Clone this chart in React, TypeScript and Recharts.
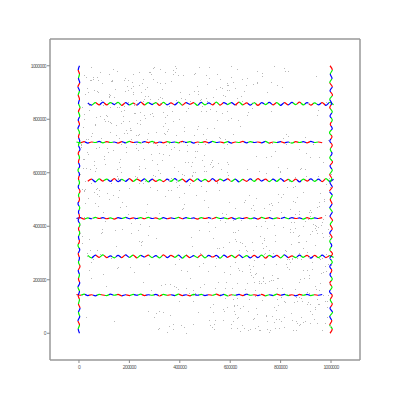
import { ComposedChart, Line, Scatter, XAxis, YAxis } from 'recharts';

// Tick values shared by both axes
const axisTicks = [0, 200000, 400000, 600000, 800000, 1000000];
const xDomain = [-115000, 1115000];
const yDomain = [-100000, 1100000];

// Background noise points, in thousands
const dotXk = [
  512, 87, 934, 263, 701, 45, 378, 829, 156, 640, 993, 221, 467, 758, 30, 605, 319, 882, 174, 546,
  72, 688, 415, 957, 239, 803, 134, 571, 926, 356, 19, 742, 283, 619, 865, 98, 450, 711, 187, 538,
  976, 305, 653, 41, 822, 496, 127, 764, 389, 915, 260, 583, 9, 847, 432, 676, 201, 959, 348, 590,
  113, 783, 462, 25, 669, 898, 331, 557, 214, 740, 981, 63, 405, 836, 292, 621, 150, 873, 509, 372,
  944, 81, 627, 251, 718, 486, 3, 793, 342, 965, 168, 534, 859, 275, 697, 418, 55, 906, 230, 661,
  395, 812, 141, 579, 970, 322, 747, 16, 483, 638, 206, 891, 529, 67, 774, 446, 987, 255, 603, 119,
  850, 367, 718, 34, 592, 941, 180, 426, 681, 299, 821, 92, 560, 913, 237, 658, 475, 13, 789, 341,
  631, 159, 904, 477, 246, 768, 52, 515, 866, 311, 694, 128, 952, 403, 745, 288, 579, 20, 837, 455,
  196, 723, 364, 989, 108, 547, 815, 273, 646, 437, 77, 880, 318, 599, 940, 165, 502, 731, 39, 612,
  286, 856, 424, 70, 667, 997, 233, 511, 789, 145, 378, 918, 61, 734, 492, 826, 215, 587, 948, 332,
  103, 677, 440, 907, 269, 545, 11, 798, 359, 622, 185, 963, 497, 725, 58, 873, 304, 566, 839, 227,
  754, 47, 593, 316, 929, 470, 138, 689, 871, 254, 613, 24, 777, 398, 985, 163, 521, 842, 296, 646,
  419, 935, 86, 704, 237, 556, 881, 175, 462, 762, 5, 627, 318, 896, 149, 531, 806, 384, 973, 243,
  680, 122, 857, 502, 33, 744, 391, 968, 209, 574, 836, 96, 425, 667, 281, 914, 547, 60, 808, 353,
  909, 275, 617, 177, 790, 428, 953, 64, 515, 729, 322, 874, 190, 641, 478, 18, 765, 396, 586, 133,
  567, 821, 29, 373, 691, 246, 925, 454, 110, 803, 637, 288, 996, 153, 519, 862, 407, 71, 735, 268,
  38, 599, 784, 341, 952, 205, 479, 648, 870, 115, 394, 727, 561, 22, 846, 287, 672, 938, 436, 181,
  829, 452, 260, 917, 83, 613, 357, 775, 998, 226, 539, 142, 706, 889, 47, 418, 659, 312, 980, 541,
  367, 702, 129, 486, 861, 590, 7, 752, 320, 943, 197, 627, 413, 848, 263, 572, 99, 811, 678, 455,
  985, 222, 535, 796, 56, 381, 669, 900, 158, 497, 733, 37, 606, 295, 859, 172, 943, 433, 713, 248,
  611, 124, 877, 398, 744, 15, 560, 237, 937, 685, 309, 82, 826, 473, 194, 627, 970, 351, 508, 766,
  141, 906, 431, 689, 278, 51, 814, 589, 365, 961, 215, 740, 500, 106, 866, 642, 304, 21, 779, 592,
  457, 993, 249, 617, 88, 736, 386, 529, 924, 178, 672, 440, 13, 808, 259, 553, 890, 340, 725, 164,
  801, 313, 665, 47, 949, 470, 208, 785, 577, 120, 855, 392, 975, 236, 696, 531, 66, 840, 417, 277,
  26, 548, 752, 297, 883, 634, 158, 405, 969, 714, 342, 588, 901, 191, 472, 27, 827, 657, 229, 939,
  693, 378, 118, 936, 509, 262, 780, 604, 43, 856, 335, 717, 461, 988, 132, 596, 244, 873, 521, 75,
  329, 761, 570, 207, 826, 94, 418, 958, 655, 285, 513, 873, 168, 731, 386, 48, 616, 922, 253, 482,
  872, 176, 446, 667, 320, 991, 539, 109, 798, 363, 227, 623, 950, 62, 707, 442, 296, 848, 579, 11,
  531, 945, 293, 103, 715, 401, 866, 199, 579, 10, 763, 638, 340, 917, 151, 474, 987, 272, 605, 834,
  218, 633, 998, 372, 527, 90, 808, 316, 691, 447, 154, 889, 587, 235, 760, 35, 423, 673, 912, 124,
  47, 583, 261, 918, 705, 132, 449, 876, 320, 664, 8, 791, 537, 204, 953, 388, 619, 96, 742, 475,
  861, 179, 597, 33, 722, 410, 948, 267, 651, 115, 834, 503, 71, 369, 986, 242, 556, 805, 149, 690,
  315, 772, 58, 491, 927, 184, 630, 397, 849, 21, 713, 566, 245, 902, 137, 468, 689, 979, 356, 524,
  612, 91, 838, 429, 276, 963, 504, 155, 745, 338, 881, 62, 595, 217, 779, 436, 994, 119, 667, 381,
  206, 737, 473, 14, 896, 560, 325, 819, 101, 648, 399, 957, 240, 533, 77, 870, 626, 293, 760, 451,
  939, 349, 126, 703, 587, 31, 822, 464, 218, 975, 613, 168, 787, 452, 29, 698, 345, 913, 571, 254,
  135, 682, 917, 281, 545, 802, 66, 417, 759, 196, 980, 333, 627, 490, 853, 146, 716, 43, 589, 866,
  727, 258, 400, 954, 162, 631, 875, 357, 49, 574, 790, 221, 936, 109, 482, 648, 302, 841, 523, 18,
  497, 846, 187, 620, 372, 78, 731, 945, 286, 519, 160, 889, 411, 694, 835, 253, 970, 384, 112, 772,
  859, 25, 674, 309, 503, 794, 238, 966, 451, 122, 618, 380, 827, 552, 195, 915, 66, 736, 292, 599,
  268, 910, 533, 180, 819, 447, 701, 83, 353, 992, 229, 648, 503, 41, 766, 311, 887, 172, 460, 627,
  782, 427, 3, 661, 238, 911, 372, 589, 150, 840, 689, 274, 952, 516, 103, 743, 420, 224, 978, 561,
  384, 619, 817, 71, 935, 256, 487, 699, 20, 776, 343, 873, 565, 202, 655, 36, 926, 471, 145, 814,
  973, 142, 459, 784, 333, 604, 871, 216, 542, 967, 121, 395, 746, 281, 836, 578, 9, 708, 363, 497,
  57, 697, 241, 548, 996, 415, 164, 632, 904, 329, 81, 768, 458, 612, 227, 897, 515, 752, 39, 186,
];
const dotYk = [
  233, 871, 54, 619, 402, 947, 175, 738, 511, 96, 363, 825, 680, 14, 289, 957, 448, 132, 795, 567,
  904, 341, 772, 187, 626, 45, 517, 889, 268, 710, 433, 63, 975, 352, 147, 801, 589, 26, 678, 396,
  120, 752, 491, 836, 307, 668, 942, 216, 573, 38, 914, 445, 697, 281, 858, 129, 760, 404, 6, 633,
  811, 258, 973, 541, 83, 420, 649, 320, 901, 186, 557, 783, 236, 465, 991, 72, 614, 341, 867, 15,
  471, 697, 188, 935, 362, 829, 597, 53, 746, 281, 604, 16, 392, 887, 163, 524, 958, 238, 785, 311,
  685, 121, 857, 416, 230, 986, 45, 772, 549, 340, 915, 207, 647, 810, 97, 358, 722, 563, 19, 893,
  377, 944, 13, 725, 591, 166, 833, 295, 467, 62, 708, 380, 921, 152, 614, 499, 250, 847, 104, 976,
  59, 537, 305, 863, 716, 199, 432, 956, 120, 631, 275, 787, 476, 30, 902, 648, 168, 530, 379, 742,
  945, 402, 689, 142, 817, 561, 22, 749, 338, 893, 475, 617, 85, 253, 961, 708, 533, 196, 859, 425,
  160, 583, 830, 313, 954, 27, 685, 472, 207, 778, 622, 110, 908, 355, 744, 249, 969, 641, 396, 78,
  794, 229, 562, 117, 483, 912, 336, 601, 28, 853, 697, 415, 185, 973, 529, 301, 77, 822, 266, 708,
  311, 996, 143, 673, 409, 765, 885, 54, 457, 190, 939, 568, 345, 802, 122, 621, 29, 431, 717, 867,
  640, 91, 376, 224, 975, 535, 277, 813, 149, 662, 405, 881, 21, 732, 589, 357, 920, 172, 503, 783,
  17, 844, 490, 727, 301, 599, 164, 358, 938, 82, 715, 452, 1, 614, 877, 216, 799, 645, 396, 534,
  859, 369, 102, 946, 623, 233, 491, 780, 51, 319, 862, 191, 748, 423, 996, 537, 66, 278, 910, 685,
  448, 745, 617, 34, 210, 903, 382, 121, 694, 511, 9, 822, 283, 577, 838, 137, 463, 957, 259, 726,
  238, 573, 927, 184, 659, 414, 873, 31, 342, 795, 605, 961, 148, 488, 278, 670, 827, 97, 556, 904,
  982, 36, 716, 459, 811, 142, 573, 999, 255, 692, 49, 387, 934, 527, 207, 757, 325, 612, 865, 168,
  534, 663, 281, 874, 45, 929, 707, 196, 598, 375, 792, 132, 470, 11, 886, 321, 653, 521, 239, 970,
  100, 427, 766, 605, 951, 258, 84, 673, 847, 497, 296, 903, 169, 713, 549, 391, 40, 843, 608, 330,
  743, 890, 204, 510, 67, 651, 952, 344, 176, 841, 535, 297, 619, 80, 447, 988, 228, 755, 931, 481,
  288, 154, 640, 932, 401, 749, 60, 829, 582, 224, 924, 418, 708, 175, 511, 886, 357, 651, 19, 799,
  866, 582, 346, 84, 731, 467, 992, 620, 240, 713, 13, 869, 541, 298, 817, 191, 402, 935, 126, 651,
  455, 16, 817, 267, 588, 925, 374, 169, 693, 502, 117, 965, 250, 742, 58, 882, 617, 332, 484, 977,
  727, 320, 482, 994, 119, 236, 639, 881, 427, 13, 785, 602, 343, 923, 707, 62, 548, 165, 861, 385,
  192, 696, 887, 330, 768, 571, 88, 999, 313, 447, 826, 147, 680, 260, 943, 489, 796, 32, 633, 901,
  914, 486, 51, 761, 148, 853, 592, 279, 18, 968, 415, 688, 831, 212, 567, 739, 106, 452, 952, 301,
  369, 812, 627, 187, 936, 532, 252, 714, 431, 68, 872, 345, 109, 608, 979, 207, 866, 494, 727, 143,
  627, 128, 952, 418, 286, 715, 39, 543, 886, 364, 199, 776, 514, 660, 244, 906, 389, 83, 806, 571,
  823, 311, 594, 968, 22, 389, 730, 142, 865, 593, 248, 43, 706, 387, 939, 670, 171, 517, 285, 753,
  562, 193, 806, 437, 71, 948, 325, 614, 882, 152, 707, 490, 35, 769, 283, 546, 918, 220, 659, 387,
  14, 747, 342, 915, 188, 594, 836, 453, 102, 677, 277, 964, 521, 829, 62, 409, 733, 169, 982, 311,
  875, 41, 628, 263, 709, 954, 387, 122, 548, 800, 196, 917, 340, 586, 47, 765, 478, 233, 850, 640,
  127, 937, 466, 705, 258, 12, 829, 581, 394, 748, 62, 488, 911, 229, 680, 150, 546, 885, 307, 975,
  728, 300, 895, 616, 45, 423, 179, 981, 662, 231, 857, 524, 744, 108, 947, 365, 21, 592, 829, 162,
  402, 815, 563, 96, 928, 676, 259, 518, 855, 38, 380, 785, 127, 601, 957, 223, 704, 454, 92, 869,
  986, 216, 371, 547, 832, 137, 694, 25, 462, 911, 295, 670, 57, 848, 416, 742, 188, 613, 935, 283,
  336, 651, 902, 110, 473, 799, 34, 668, 947, 228, 519, 856, 393, 715, 173, 952, 586, 75, 431, 819,
  606, 49, 761, 377, 984, 534, 206, 815, 573, 98, 731, 318, 964, 461, 241, 694, 142, 871, 525, 406,
  165, 894, 254, 702, 606, 19, 928, 375, 144, 789, 468, 999, 276, 637, 866, 83, 541, 348, 813, 220,
  919, 427, 79, 848, 313, 642, 507, 975, 765, 189, 585, 32, 878, 352, 713, 940, 237, 490, 658, 104,
  53, 681, 374, 929, 563, 205, 792, 99, 844, 415, 253, 711, 162, 996, 631, 328, 876, 589, 443, 729,
  741, 268, 118, 543, 403, 877, 649, 21, 964, 367, 807, 134, 614, 249, 905, 507, 73, 773, 328, 993,
  493, 914, 601, 207, 776, 36, 447, 893, 282, 642, 971, 556, 17, 819, 388, 131, 703, 941, 185, 626,
  278, 139, 827, 969, 347, 714, 568, 244, 109, 878, 512, 299, 906, 47, 741, 614, 381, 5, 855, 474,
];

// Wavy traces: wiggle around the level, in thousands
const h1Wiggle = [2, -1, 3, -2, 1, -3, 2, 0, -2, 3, -1, 2, -3, 1, -2, 2, -1, 3, -2, 1, -1, 2, -3, 2, -1, 1, -2, 3, -2, 1, -3, 2, -1, 2, -2, 1, -1, 3, -2, 2, -3, 1, -1, 2, -2, 3, -1, 1, -2, 2, -3, 1, -2, 3, -1, 2, -2, 1, -3, 2, -1, 2, -2, 1, -1, 2];
const h2Wiggle = [4, -5, 5, -3, 6, -4, 2, -5, 4, -4, 6, -3, 5, -5, 4, -2, 5, -4, 3, -5, 6, -4, 4, -3, 5, -6, 4, -4, 3, -4, 6, -5, 4, -2, 4, -6, 5, -3, 4, -4, 6, -4, 3, -5, 4, -4, 5, -6, 4, -3, 4, -5, 6, -4, 2, -4, 5, -3, 4, -6, 4, -4, 5, -4, 3, -4];
const h3Wiggle = [-1, 2, -3, 1, -2, 3, -1, 2, -2, 1, -3, 2, -1, 3, -2, 1, -1, 2, -2, 3, -1, 1, -3, 2, -2, 1, -1, 3, -2, 2, -1, 1, -3, 2, -1, 2, -2, 3, -1, 1, -2, 2, -3, 1, -1, 2, -2, 1, -3, 3, -1, 2, -2, 1, -1, 3, -2, 2, -1, 1, -3, 2, -2, 1, -1, 2];
const h4Wiggle = [-4, 4, -6, 5, -3, 4, -4, 6, -5, 3, -4, 6, -4, 4, -3, 5, -6, 4, -4, 2, -5, 4, -4, 6, -3, 4, -6, 4, -4, 5, -4, 3, -5, 6, -4, 4, -2, 5, -4, 4, -6, 3, -4, 5, -4, 6, -3, 4, -5, 4, -4, 6, -4, 3, -5, 4, -6, 4, -3, 5, -4, 4, -5, 6, -4, 4];
const h5Wiggle = [1, -2, 2, -3, 1, -1, 3, -2, 2, -1, 1, -3, 2, -2, 3, -1, 1, -2, 2, -1, 3, -3, 1, -2, 2, -1, 1, -2, 3, -1, 2, -3, 1, -1, 2, -2, 3, -1, 1, -2, 2, -3, 1, -1, 3, -2, 2, -1, 1, -2, 3, -3, 1, -1, 2, -2, 1, -3, 2, -1, 2, -2, 3, -1, 1, -2];
const h6Wiggle = [3, -5, 4, -4, 6, -4, 4, -3, 5, -6, 4, -4, 2, -5, 6, -4, 4, -3, 4, -6, 5, -4, 3, -4, 6, -5, 4, -2, 4, -6, 5, -4, 3, -4, 6, -5, 4, -3, 4, -4, 6, -4, 3, -5, 4, -6, 4, -3, 5, -4, 4, -6, 4, -4, 5, -3, 6, -4, 4, -5, 3, -4, 4, -6, 5, -4];
const v0Wiggle = [2, -3, 2, -4, 3, -2, 4, -2, 2, -3, 2, -4, 3, -2, 2, -3, 4, -2, 2, -3, 3, -4, 2, -2, 3, -2, 4, -3, 2, -2, 3, -4, 2, -2, 4, -3, 2, -2, 2, -4, 3, -2, 2, -3, 4, -2, 3, -2, 2, -4, 2, -3, 3, -2, 4, -2, 2, -3, 2, -4, 3, -2, 2, -3, 2];
const v1Wiggle = [-4, 5, -5, 3, -5, 6, -4, 5, -3, 5, -6, 4, -5, 5, -4, 3, -5, 5, -4, 6, -5, 3, -5, 4, -5, 5, -3, 6, -4, 5, -5, 4, -3, 5, -6, 5, -4, 3, -5, 5, -4, 6, -5, 4, -3, 5, -5, 4, -6, 5, -3, 5, -4, 5, -5, 3, -5, 6, -4, 5, -5, 4, -3, 5, -4];

const traces = [
  { id: 'h1', dir: 'h', level: 143000, start: -10000, step: 15000, wiggle: h1Wiggle, colors: 'rgbrbgrgbgrbrgbgrbgbrgrbgrbrgbgbrgrbgrgbrbgrbrgbgrbgrbrgbgrb' },
  { id: 'h2', dir: 'h', level: 287000, start: 35000, step: 15000, wiggle: h2Wiggle, colors: 'gbrgrbgbrbgrgbrgbgrbrgbgrbgrgbrbgbrgrbgbrbgrgbrgbrgbgrbrgbrg' },
  { id: 'h3', dir: 'h', level: 430000, start: -10000, step: 15000, wiggle: h3Wiggle, colors: 'brgbgrbrgrbgbrbgrgbrgbrbgrbgbrgrbrgbgrbgbrgbrgrbgrbgbrbgrgbr' },
  { id: 'h4', dir: 'h', level: 572000, start: 35000, step: 15000, wiggle: h4Wiggle, colors: 'rbgrgbrbgbrgrbgbrgrbgbgrbrgbgrbrgbrgbgrbgrbrgbgbrgrbgrbgbrgb' },
  { id: 'h5', dir: 'h', level: 714000, start: -10000, step: 15000, wiggle: h5Wiggle, colors: 'grbrgbgrgbrbgrbgbrgrbrgbgrbgbrgrbgbrgbrgrbgbrbgrgbrbgrgbrbgr' },
  { id: 'h6', dir: 'h', level: 858000, start: 35000, step: 15000, wiggle: h6Wiggle, colors: 'bgrbrgbgrbgrbrgbgrgbrbgrbrgbgbrgrbgbrgrbgrbgbrgbrbgrgbrgbrbg' },
  { id: 'v0', dir: 'v', level: 0, start: 0, step: 15625, wiggle: v0Wiggle, colors: 'brgbrbgrbgrgbrbgrbgbrgrbgbrgbrgrbgbrbgrgbrgbrbgrbgrbgbrgrbgbrgb' },
  { id: 'v1', dir: 'v', level: 1000000, start: 0, step: 15625, wiggle: v1Wiggle, colors: 'rgbgrbrgbrgbgrbgrbrgbgrbgrgbrbgrbgbrgrbrgbgrbgbrbgrgbrgrbgbrgr' },
];

const colorMap: Record<string, string> = { r: '#ff0000', g: '#00ee00', b: '#0000ff' };

const dots = dotXk.slice(0, Math.min(dotXk.length, dotYk.length)).map((x, i) => ({ x: x * 1000, y: dotYk[i] * 1000 }));

const traceData = traces.map((t) =>
  t.wiggle.map((w, i) => {
    const along = t.start + i * t.step;
    return t.dir === 'h' ? { x: along, y: t.level + w * 1000 } : { x: t.level + w * 1000, y: along };
  })
);

const tickStyle = { fontSize: 5, fill: '#555', fontFamily: 'Liberation Sans, Arial, sans-serif', letterSpacing: -0.6 };
const frame = { stroke: '#999', strokeWidth: 1.5 };

const Dot = (props: any) => {
  if (props.cx == null || props.cy == null) return null;
  return <rect x={Math.round(props.cx)} y={Math.round(props.cy)} width={1} height={1} fill="#b8b8b8" />;
};

export default function App() {
  return (
    <div style={{ position: 'absolute', left: 0, top: 0, width: 400, height: 400, background: '#fff' }}>
      <ComposedChart width={400} height={400} margin={{ top: 39, right: 40, left: 20, bottom: 20 }}>
        <defs>
          {traces.map((t) => {
            const n = t.colors.length;
            return (
              <linearGradient key={t.id} id={`grad-${t.id}`} x1="0" y1="0" x2={t.dir === 'h' ? '1' : '0'} y2={t.dir === 'h' ? '0' : '1'}>
                {t.colors.split('').flatMap((c, i) => [
                  <stop key={`${i}a`} offset={i / n} stopColor={colorMap[c]} />,
                  <stop key={`${i}b`} offset={(i + 1) / n} stopColor={colorMap[c]} />,
                ])}
              </linearGradient>
            );
          })}
        </defs>
        <XAxis
          dataKey="x"
          type="number"
          domain={xDomain}
          ticks={axisTicks}
          allowDataOverflow
          height={20}
          tick={tickStyle}
          tickSize={3}
          tickMargin={2}
          axisLine={frame}
          tickLine={{ stroke: '#888' }}
        />
        <XAxis
          xAxisId="top"
          orientation="top"
          dataKey="x"
          type="number"
          domain={xDomain}
          ticks={axisTicks}
          allowDataOverflow
          height={1}
          mirror
          tick={false}
          tickSize={3}
          axisLine={frame}
          tickLine={{ stroke: '#888' }}
        />
        <YAxis
          dataKey="y"
          type="number"
          domain={yDomain}
          ticks={axisTicks}
          allowDataOverflow
          width={30}
          tick={tickStyle}
          tickSize={3}
          tickMargin={1}
          axisLine={frame}
          tickLine={{ stroke: '#888' }}
        />
        <YAxis
          yAxisId="right"
          orientation="right"
          dataKey="y"
          type="number"
          domain={yDomain}
          ticks={axisTicks}
          allowDataOverflow
          width={1}
          mirror
          tick={false}
          tickSize={3}
          axisLine={frame}
          tickLine={{ stroke: '#888' }}
        />
        <Scatter data={dots} dataKey="y" shape={<Dot />} isAnimationActive={false} />
        {traces.map((t, i) => (
          <Line
            key={t.id}
            data={traceData[i]}
            dataKey="y"
            xAxisId={t.dir === 'v' ? 'top' : 0}
            yAxisId={t.dir === 'v' ? 'right' : 0}
            type={t.dir === 'h' ? 'monotoneX' : 'monotoneY'}
            stroke={`url(#grad-${t.id})`}
            strokeWidth={1.2}
            dot={false}
            activeDot={false}
            isAnimationActive={false}
          />
        ))}
      </ComposedChart>
    </div>
  );
}
